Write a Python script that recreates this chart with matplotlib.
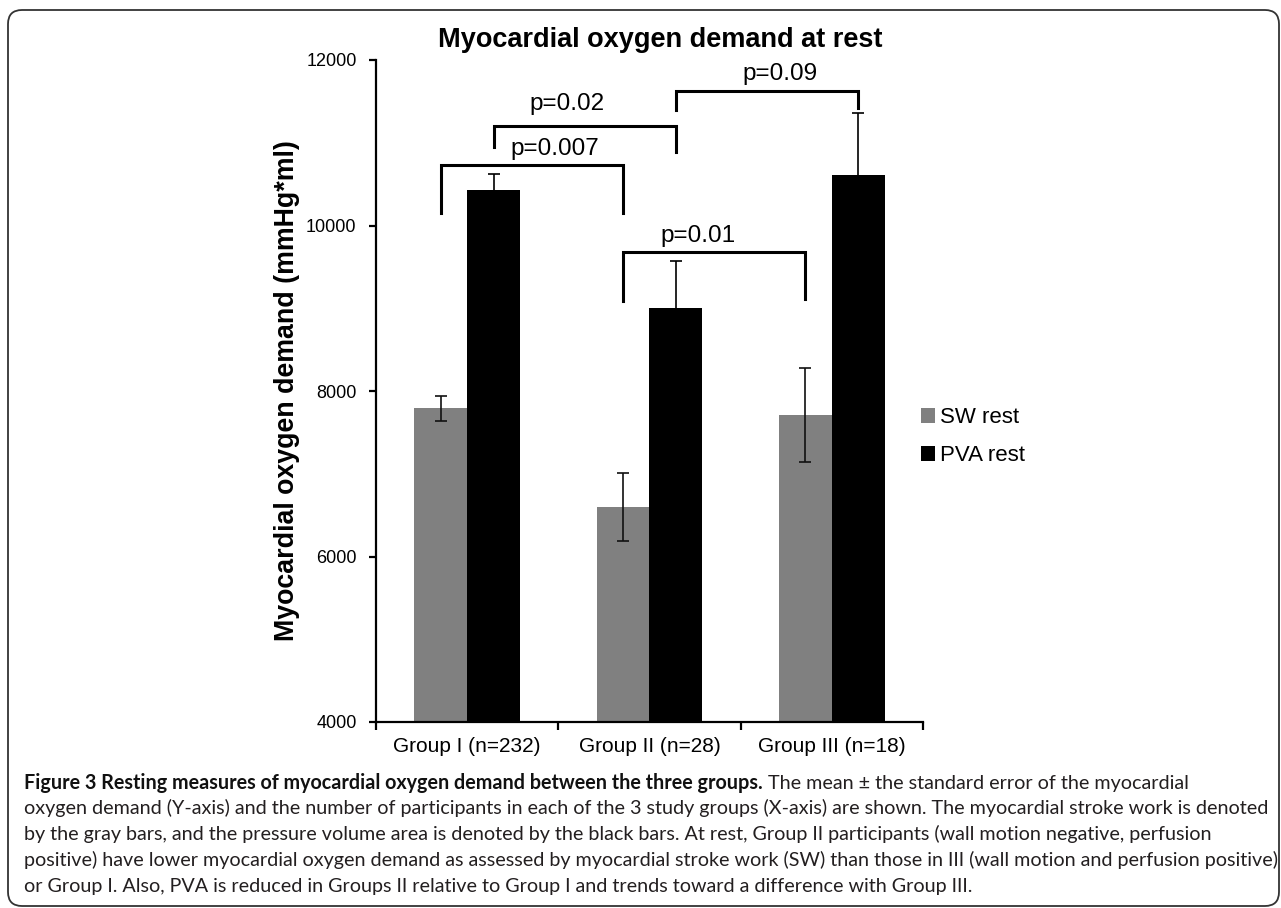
import matplotlib
matplotlib.use('Agg')
import matplotlib.pyplot as plt
import numpy as np
from matplotlib.patches import FancyBboxPatch, Patch
from matplotlib.transforms import IdentityTransform

# ---------------- data ----------------
groups = ['Group I (n=232)', 'Group II (n=28)', 'Group III (n=18)']
series_names = ['SW rest', 'PVA rest']
sw_rest = [7790, 6600, 7710]
sw_err = [155, 410, 565]
pva_rest = [10425, 9000, 10610]
pva_err = [200, 570, 755]
y_ticks = [4000, 6000, 8000, 10000, 12000]
title_text = 'Myocardial oxygen demand at rest'
y_label = 'Myocardial oxygen demand (mmHg*ml)'
# comparisons: (group a, series a, group b, series b, label)
comparisons = [(0, 0, 1, 0, 'p=0.007'),
               (0, 1, 1, 1, 'p=0.02'),
               (1, 1, 2, 1, 'p=0.09'),
               (1, 0, 2, 0, 'p=0.01')]

caption_bold = 'Figure 3 Resting measures of myocardial oxygen demand between the three groups.'
caption_lines = [
    ' The mean \u00b1 the standard error of the myocardial',
    'oxygen demand (Y-axis) and the number of participants in each of the 3 study groups (X-axis) are shown. The myocardial stroke work is denoted',
    'by the gray bars, and the pressure volume area is denoted by the black bars. At rest, Group II participants (wall motion negative, perfusion',
    'positive) have lower myocardial oxygen demand as assessed by myocardial stroke work (SW) than those in III (wall motion and perfusion positive)',
    'or Group I. Also, PVA is reduced in Groups II relative to Group I and trends toward a difference with Group III.',
]

# ---------------- layout / style ----------------
W, H = 1281, 908
plt.rcParams['font.family'] = ['Liberation Sans', 'DejaVu Sans']
fig = plt.figure(figsize=(W / 100, H / 100), dpi=100)
fig.patch.set_facecolor('white')

def fx(px):
    return px / W

def fy(py):
    return 1 - py / H

ax = fig.add_axes([fx(376), fy(722), (923 - 376) / W, (722 - 60) / H])
GRAY = '#808080'
BLACK = '#000000'
bw = 0.29
x = np.arange(len(groups))
err_kw = dict(ecolor='#111111', elinewidth=1.2, capsize=4.3, capthick=1.2)
ax.bar(x - bw / 2, sw_rest, bw, color=GRAY, yerr=sw_err, error_kw=err_kw,
       label=series_names[0], zorder=2)
err_kw_b = dict(err_kw, ecolor='#000000')
ax.bar(x + bw / 2, pva_rest, bw, color=BLACK, yerr=pva_err, error_kw=err_kw_b,
       label=series_names[1], zorder=2)

ax.set_xlim(-0.5, 2.5)
ax.set_ylim(4000, 12000)
ax.set_yticks(y_ticks)
ax.set_yticklabels([str(v) for v in y_ticks])
ax.set_xticks(x)
ax.set_xticklabels(groups)
ax.set_xticks(np.arange(-0.5, 2.6, 1.0), minor=True)
for s in ['top', 'right']:
    ax.spines[s].set_visible(False)
for s in ['left', 'bottom']:
    ax.spines[s].set_linewidth(1.6)
ax.tick_params(axis='y', which='major', length=5, width=1.6, pad=9, labelsize=13)
ax.tick_params(axis='x', which='major', length=0, pad=11, labelsize=15)
ax.tick_params(axis='x', which='minor', length=5.5, width=1.6)

# significance brackets: (top y, left leg bottom, right leg bottom, text x, text baseline y)
bracket_geom = [(10727, 10147, 10147, 0.482, 10848),
                (11200, 10948, 10888, 0.548, 11391),
                (11624, 11391, 11415, 1.716, 11753),
                (9685, 9088, 9108, 1.266, 9797)]
offs = [-bw / 2, bw / 2]
for (ga, sa, gb, sb, lab), (ytop, yl, yr, tx, ty) in zip(comparisons, bracket_geom):
    xa = ga + offs[sa]
    xb = gb + offs[sb]
    ax.plot([xa, xa, xb, xb], [yl, ytop, ytop, yr], color='black', lw=2.2,
            solid_joinstyle='miter', zorder=3, clip_on=False)
    ax.text(tx, ty, lab, ha='center', va='baseline', fontsize=17.5, zorder=4)

fig.text(fx(660), fy(47), title_text, ha='center', va='baseline',
         fontsize=19.5, fontweight='bold')
fig.text(fx(287), fy(391), y_label, ha='center', va='center', rotation=90,
         fontsize=19.3, fontweight='bold')

handles = [Patch(facecolor=GRAY, edgecolor='none'), Patch(facecolor=BLACK, edgecolor='none')]
fig.legend(handles, series_names, loc='upper left', bbox_to_anchor=(fx(921), fy(407)),
           bbox_transform=fig.transFigure, frameon=False, fontsize=16,
           handlelength=0.65, handleheight=0.65, handletextpad=0.2,
           labelspacing=0.78, borderpad=0, borderaxespad=0)

# ---------------- caption ----------------
fig.canvas.draw()
rend = fig.canvas.get_renderer()
CAP_FONT = ['Lato', 'DejaVu Sans']
probe = fig.text(0, 0, caption_lines[3], fontsize=12, family=CAP_FONT)
wprobe = probe.get_window_extent(rend).width
probe.remove()
cap_size = 12 * 1250 / wprobe

baselines = [789, 814, 840, 866, 892]
tb = fig.text(fx(24), fy(baselines[0]), caption_bold, fontsize=cap_size,
              family=CAP_FONT, fontweight='bold', va='baseline', color='#111111')
wb = tb.get_window_extent(rend).width
fig.text(fx(24 + wb), fy(baselines[0]), caption_lines[0], fontsize=cap_size,
         family=CAP_FONT, va='baseline', color='#231f20')
for line, b in zip(caption_lines[1:], baselines[1:]):
    fig.text(fx(24), fy(b), line, fontsize=cap_size, family=CAP_FONT,
             va='baseline', color='#231f20')

# outer frame with rounded corners (pixel coordinates)
frame = FancyBboxPatch((8, H - 906), 1271, 896, boxstyle='round,pad=0,rounding_size=14',
                       transform=IdentityTransform(), facecolor='none',
                       edgecolor='#333333', linewidth=1.3)
fig.patches.append(frame)

fig.savefig('out.png', dpi=100, facecolor='white')
